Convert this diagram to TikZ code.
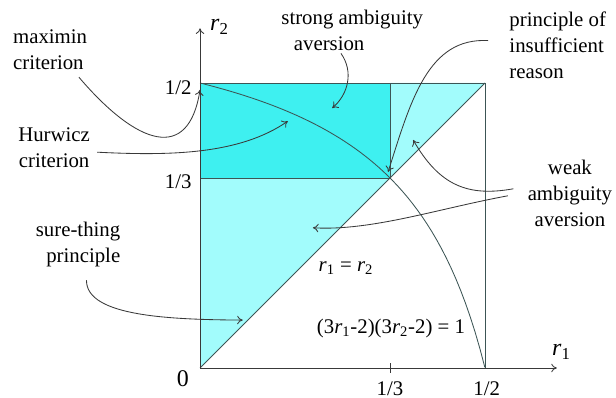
\documentclass[tikz,border=0pt]{standalone}
\usepackage{fontspec}
\setmainfont{Liberation Serif}
\newfontfamily\timesfont{Liberation Serif}
\usetikzlibrary{arrows.meta, positioning}
\definecolor{strongcyan}{RGB}{62,240,240}
\definecolor{weakcyan}{RGB}{162,252,252}
\definecolor{edgegray}{RGB}{60,85,85}
\tikzstyle{note} = [inner sep=1pt, font=\timesfont\fontsize{14.8}{18.5}\selectfont]
\tikzstyle{bignote} = [inner sep=1pt, font=\timesfont\fontsize{17}{20}\selectfont]
\tikzstyle{pointer} = [->, >={To[length=4pt,width=6pt]}, line width=0.6pt, gray!45!black]
\tikzstyle{edgeline} = [line width=0.6pt, edgegray]
\newcommand{\rr}[1]{\textit{r}\textsubscript{#1}}

\begin{document}
\begin{tikzpicture}[x=14.25cm, y=14.25cm]
    \useasboundingbox (-0.3509,-0.0526) rectangle (0.7298,0.6456);

    % regions
    \fill[weakcyan] (0,0) -- (1/3,1/3) -- (0,1/3) -- cycle;
    \fill[weakcyan] (1/3,1/3) -- (1/2,1/2) -- (1/3,1/2) -- cycle;
    \fill[strongcyan] (0,1/3) rectangle (1/3,1/2);

    % boundaries
    \draw[edgeline] (0,1/2) -- (1/2,1/2) -- (1/2,0);
    \draw[edgeline] (0,0) -- (1/2,1/2);
    \draw[edgeline] (0,1/3) -- (1/3,1/3) -- (1/3,1/2);
    \draw[edgeline] plot[domain=0:0.5, samples=60] (\x, {(2+1/(3*\x-2))/3});

    % axes
    \draw[pointer] (0,0) -- (0.626,0);
    \draw[pointer] (0,0) -- (0,0.596);
    \draw[gray!45!black, line width=0.6pt] (1/3,-0.008) -- (1/3,0.008);
    \node (rone) [bignote] at (0.634,0.028) {\rr{1}};
    \node (rtwo) [bignote] at (0.034,0.598) {\rr{2}};
    \node (zero) [bignote] at (-0.030,-0.018) {0};
    \node (yhalf) [note, anchor=east] at (-0.012,0.491) {1/2};
    \node (ythird) [note, anchor=east] at (-0.012,0.326) {1/3};
    \node (xthird) [note] at (1/3,-0.036) {1/3};
    \node (xhalf) [note] at (0.503,-0.036) {1/2};

    % formulas
    \node (diag) [note] at (0.256,0.175) {\rr{1} = \rr{2}};
    \node (eqn) [note] at (0.335,0.070) {(3\rr{1}-2)(3\rr{2}-2) = 1};

    % labels
    \node (maximin) [note, align=left] at (-0.263,0.558) {maximin\\criterion};
    \node (hurwicz) [note, align=center] at (-0.256,0.386) {Hurwicz\\criterion};
    \node (strong) [note, align=left] at (0.267,0.593) {strong ambiguity\\\hspace{0.6em}aversion};
    \node (insuff) [note, align=left, anchor=west] at (0.540,0.567) {principle of\\insufficient\\reason};
    \node (weak) [note, align=center] at (0.649,0.307) {weak\\ambiguity\\aversion};
    \node (sure) [note, align=right, anchor=east] at (-0.137,0.216) {sure-thing\\principle};

    % pointer tips
    \coordinate (tipmax) at (0,0.488);
    \coordinate (tiphur) at (0.154,0.433);
    \coordinate (tipstrong) at (0.232,0.456);
    \coordinate (tipinsuff) at (0.330,0.344);
    \coordinate (tipweakA) at (0.374,0.400);
    \coordinate (tipweakB) at (0.198,0.246);
    \coordinate (tipsure) at (0.075,0.084);

    \draw[pointer] ([xshift=-7pt,yshift=-4pt]maximin.south east) .. controls (-0.11,0.39) and (-0.02,0.36) .. (tipmax);
    \draw[pointer] ([xshift=4pt,yshift=-3pt]hurwicz.east) .. controls (-0.05,0.372) and (0.07,0.375) .. (tiphur);
    \draw[pointer] ([xshift=-8pt,yshift=-1pt]strong.south) .. controls (0.27,0.52) and (0.26,0.48) .. (tipstrong);
    \draw[pointer] ([xshift=-14pt,yshift=3pt]insuff.west) .. controls (0.40,0.58) and (0.37,0.47) .. (tipinsuff);
    \draw[pointer] ([xshift=-9pt,yshift=3pt]weak.west) .. controls (0.47,0.30) and (0.42,0.32) .. (tipweakA);
    \draw[pointer] ([xshift=-13pt,yshift=-2pt]weak.west) .. controls (0.42,0.28) and (0.30,0.24) .. (tipweakB);
    \draw[pointer] ([xshift=6pt,yshift=-8pt]sure.south) .. controls (-0.20,0.09) and (-0.05,0.085) .. (tipsure);
\end{tikzpicture}
\end{document}
